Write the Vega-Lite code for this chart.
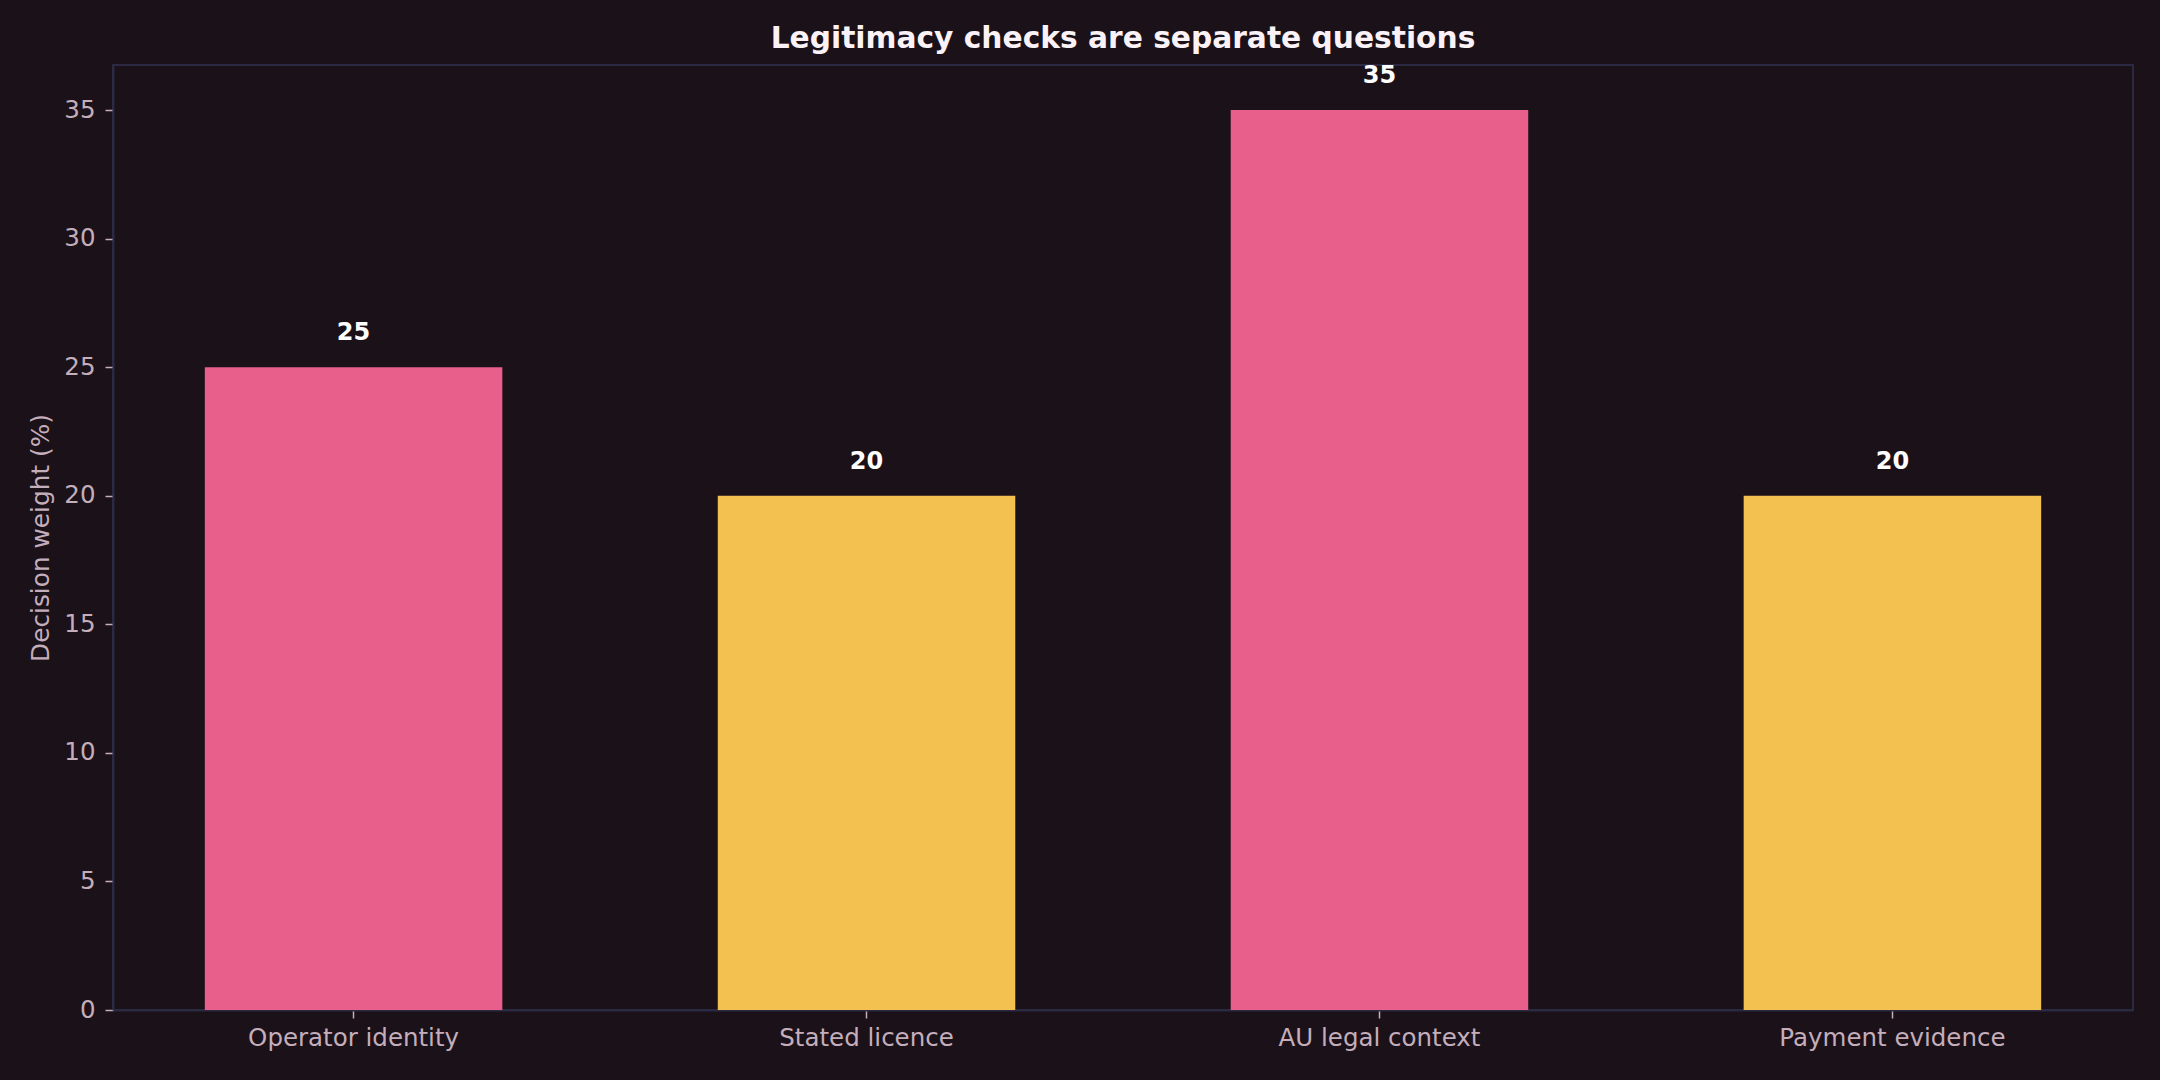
{
  "$schema": "https://vega.github.io/schema/vega-lite/v6.json",
  "autosize": {"type": "none"},
  "padding": {"left": 113, "top": 65, "right": 27, "bottom": 70},
  "width": 2020,
  "height": 945,
  "background": "#1b1119",
  "title": {
    "text": "Legitimacy checks are separate questions",
    "font": "DejaVu Sans",
    "fontSize": 29.7,
    "fontWeight": "bold",
    "color": "#faf2f6",
    "anchor": "middle",
    "frame": "group",
    "baseline": "bottom",
    "offset": 8,
    "dy": 28
  },
  "data": {
    "values": [
      {"check": "Operator identity", "weight": 25, "group": "a"},
      {"check": "Stated licence", "weight": 20, "group": "b"},
      {"check": "AU legal context", "weight": 35, "group": "a"},
      {"check": "Payment evidence", "weight": 20, "group": "b"}
    ]
  },
  "encoding": {
    "x": {
      "field": "check",
      "type": "nominal",
      "sort": null,
      "scale": {"paddingInner": 0.42, "paddingOuter": 0.179},
      "axis": {"title": null, "labelAngle": 0, "labelPadding": 8, "labelLimit": 0}
    },
    "y": {
      "field": "weight",
      "type": "quantitative",
      "scale": {"domain": [0, 36.75], "nice": false, "zero": true},
      "axis": {
        "title": "Decision weight (%)",
        "values": [0, 5, 10, 15, 20, 25, 30, 35],
        "grid": false,
        "labelPadding": 10,
        "titleX": -65,
        "titleY": 472.5,
        "titleAngle": -90,
        "titleAlign": "center",
        "titleBaseline": "alphabetic"
      }
    }
  },
  "layer": [
    {
      "mark": {"type": "bar"},
      "encoding": {
        "color": {
          "field": "group",
          "type": "nominal",
          "scale": {"domain": ["a", "b"], "range": ["#e85f8c", "#f2c150"]},
          "legend": null
        }
      }
    },
    {
      "mark": {
        "type": "text",
        "baseline": "alphabetic",
        "dy": -27,
        "font": "DejaVu Sans",
        "fontSize": 24,
        "fontWeight": "bold",
        "color": "#ffffff"
      },
      "encoding": {
        "text": {"field": "weight", "type": "quantitative"}
      }
    }
  ],
  "config": {
    "font": "DejaVu Sans",
    "view": {"stroke": "#2b2a42", "strokeWidth": 2},
    "axis": {
      "domainColor": "#2b2a42",
      "domainWidth": 2,
      "tickColor": "#c4aebb",
      "tickSize": 8,
      "tickWidth": 1.5,
      "labelColor": "#c4aebb",
      "labelFont": "DejaVu Sans",
      "labelFontSize": 24.5,
      "labelLimit": 0,
      "titleColor": "#c4aebb",
      "titleFont": "DejaVu Sans",
      "titleFontSize": 24.8,
      "titleFontWeight": "normal"
    }
  }
}
